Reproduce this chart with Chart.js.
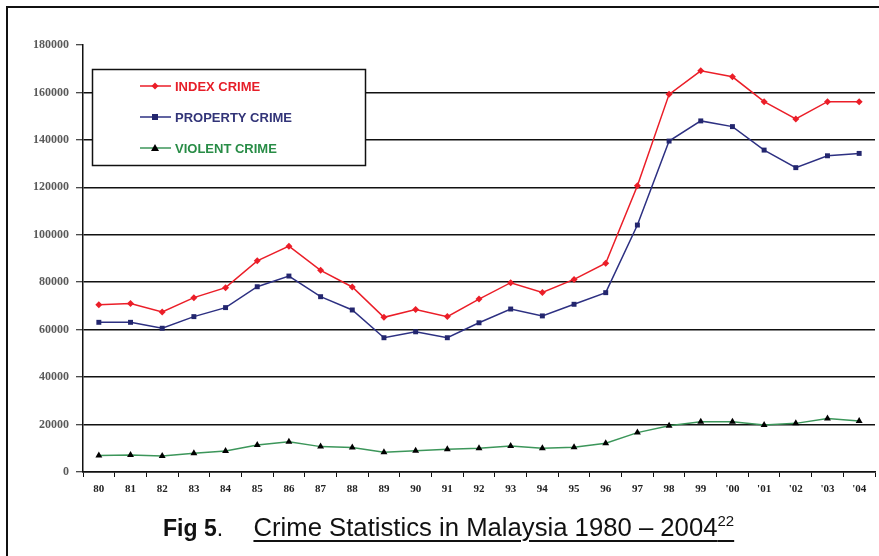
<!DOCTYPE html>
<html>
<head>
<meta charset="utf-8">
<script src="https://cdn.jsdelivr.net/npm/chart.js@4/dist/chart.umd.min.js"></script>
<style>
  html, body { margin: 0; padding: 0; background: #fff; }
  #wrap { position: relative; width: 879px; height: 556px; overflow: hidden; }
  #frame { position: absolute; left: 6px; top: 6px; width: 900px; height: 600px;
           border-left: 2px solid #111; border-top: 2px solid #111; }
  #crimeChart { position: absolute; left: 0; top: 0; }
  #caption { position: absolute; left: 163px; top: 512px; white-space: nowrap;
             font-family: "Liberation Sans", Arial, sans-serif;
             font-size: 23px; color: #111; }
  #caption b { font-weight: bold; }
  #caption u { margin-left: 24px; font-size: 25.7px; text-decoration-thickness: 1.5px; text-underline-offset: 4px; }
  #caption sup { font-size: 15px; }
</style>
</head>
<body>
<div id="wrap">
  <div id="frame"></div>
  <canvas id="crimeChart" width="879" height="556"></canvas>
  <div id="caption"><b>Fig 5</b>. <u>Crime Statistics in Malaysia 1980 – 2004<sup>22</sup></u></div>
</div>
<script>
/* Crime Statistics in Malaysia 1980 - 2004 */

const years = ['80', '81', '82', '83', '84', '85', '86', '87', '88', '89', '90', '91', '92',
               '93', '94', '95', '96', '97', '98', '99', "'00", "'01", "'02", "'03", "'04"];

const indexCrime = [70500, 71000, 67500, 73500, 77700, 89000, 95200, 85000, 78000, 65200, 68500, 65500, 72900,
                    79800, 75700, 81200, 88000, 120700, 159200, 169100, 166600, 156100, 148800, 156100, 156100];

const propertyCrime = [63100, 63100, 60600, 65500, 69300, 78100, 82600, 73900, 68300, 56600, 59100, 56600, 62900,
                       68700, 65800, 70700, 75600, 104100, 139500, 148000, 145600, 135700, 128300, 133300, 134300];

const violentCrime = [7000, 7200, 6700, 7900, 8900, 11400, 12800, 10700, 10300, 8300, 9000, 9600, 10000,
                      11000, 10000, 10400, 12100, 16600, 19500, 21200, 21200, 19800, 20500, 22600, 21500];

const yTicks = [0, 20000, 40000, 60000, 80000, 100000, 120000, 140000, 160000, 180000];

const legendItems = [
  { label: 'INDEX CRIME', line: 'rgb(235, 30, 40)', text: 'rgb(230, 30, 40)', mark: 'rgb(235, 30, 40)', shape: 'diamond' },
  { label: 'PROPERTY CRIME', line: 'rgb(45, 48, 130)', text: 'rgb(50, 52, 120)', mark: 'rgb(35, 38, 110)', shape: 'square' },
  { label: 'VIOLENT CRIME', line: 'rgb(60, 150, 90)', text: 'rgb(40, 140, 70)', mark: '#000', shape: 'triangle' }
];

const legendBox = {
  id: 'legendBox',
  afterDraw(chart) {
    const { ctx } = chart;
    ctx.save();
    ctx.fillStyle = '#fff';
    ctx.fillRect(92, 69, 273, 96);
    ctx.strokeStyle = '#111';
    ctx.lineWidth = 1.5;
    ctx.strokeRect(92.5, 69.5, 273, 96);

    legendItems.forEach((item, i) => {
      const y = 86 + i * 31;
      ctx.strokeStyle = item.line;
      ctx.lineWidth = 1.5;
      ctx.beginPath();
      ctx.moveTo(140, y);
      ctx.lineTo(171, y);
      ctx.stroke();

      ctx.fillStyle = item.mark;
      ctx.beginPath();
      if (item.shape === 'diamond') {
        ctx.moveTo(155, y - 3.5); ctx.lineTo(158.5, y); ctx.lineTo(155, y + 3.5); ctx.lineTo(151.5, y);
      } else if (item.shape === 'square') {
        ctx.rect(152, y - 3, 6, 6);
      } else {
        ctx.moveTo(155, y - 4); ctx.lineTo(159, y + 3); ctx.lineTo(151, y + 3);
      }
      ctx.closePath();
      ctx.fill();

      ctx.font = 'bold 13px "Liberation Sans", Arial, sans-serif';
      ctx.fillStyle = item.text;
      ctx.textBaseline = 'middle';
      ctx.fillText(item.label, 175, y + 1);
    });
    ctx.restore();
  }
};

const ctx = document.getElementById('crimeChart');

new Chart(ctx, {
  type: 'line',
  data: {
    labels: years,
    datasets: [
      {
        label: 'INDEX CRIME',
        data: indexCrime,
        borderColor: 'rgb(235, 30, 40)',
        backgroundColor: 'rgb(235, 30, 40)',
        borderWidth: 1.5,
        pointStyle: 'rectRot',
        pointRadius: 3.5,
        pointBorderWidth: 0,
        tension: 0
      },
      {
        label: 'PROPERTY CRIME',
        data: propertyCrime,
        borderColor: 'rgb(45, 48, 130)',
        backgroundColor: 'rgb(35, 38, 110)',
        borderWidth: 1.5,
        pointStyle: 'rect',
        pointRadius: 3.5,
        pointBorderWidth: 0,
        tension: 0
      },
      {
        label: 'VIOLENT CRIME',
        data: violentCrime,
        borderColor: 'rgb(60, 150, 90)',
        backgroundColor: '#000',
        borderWidth: 1.5,
        pointStyle: 'triangle',
        pointRadius: 4,
        pointBorderWidth: 0,
        tension: 0
      }
    ]
  },
  options: {
    responsive: false,
    animation: false,
    layout: { padding: { top: 45, right: 1, left: 0, bottom: 0 } },
    plugins: {
      legend: { display: false },
      tooltip: { enabled: false }
    },
    scales: {
      x: {
        offset: true,
        border: { color: '#111', width: 1.5 },
        grid: {
          offset: true,
          drawOnChartArea: false,
          tickLength: 5,
          tickColor: '#111',
          tickWidth: 1
        },
        ticks: {
          color: '#222',
          padding: 6,
          maxRotation: 0,
          autoSkip: false,
          font: { family: '"Liberation Serif", "DejaVu Serif", serif', size: 11, weight: 'bold' }
        },
        afterFit(scale) { scale.height = 84; }
      },
      y: {
        min: 0,
        max: 180000,
        afterBuildTicks(scale) { scale.ticks = yTicks.map(v => ({ value: v })); },
        border: { color: '#111', width: 1.5 },
        grid: {
          color: (c) => (c.tick && c.tick.value === 180000 ? 'rgba(0,0,0,0)' : '#111'),
          lineWidth: 1.5,
          tickLength: 7,
          tickColor: '#111',
          tickWidth: 1
        },
        ticks: {
          color: '#5a5a5a',
          padding: 7,
          font: { family: '"Liberation Serif", "DejaVu Serif", serif', size: 12, weight: 'bold' },
          callback: (v) => String(v)
        },
        afterFit(scale) { scale.width = 83; }
      }
    }
  },
  plugins: [legendBox]
});
</script>
</body>
</html>
